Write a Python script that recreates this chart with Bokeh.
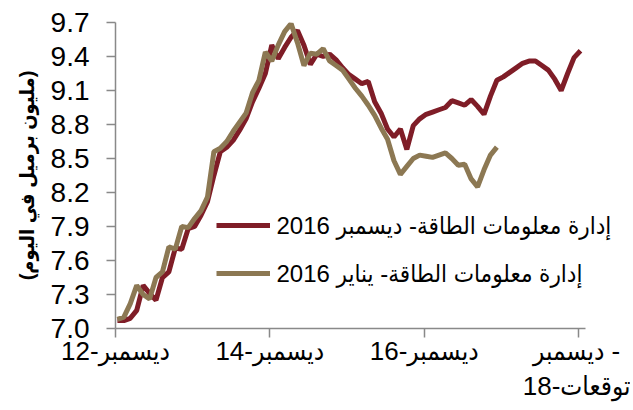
from bokeh.plotting import figure
from bokeh.models import Legend, LegendItem, Range1d, FixedTicker, PrintfTickFormatter, Label
from bokeh.embed import file_html
from bokeh.resources import INLINE
import numpy as np

# EIA Dec-2016 STEO (monthly, Dec-12 .. Dec-18), million b/d
eia_dec16 = [7.07, 7.07, 7.09, 7.16, 7.38, 7.31, 7.25, 7.45, 7.50, 7.71,
             7.70, 7.88, 7.90, 8.00, 8.12, 8.35, 8.56, 8.60, 8.66, 8.75,
             8.85, 9.00, 9.12, 9.25, 9.50, 9.38, 9.48, 9.57, 9.63, 9.50,
             9.33, 9.42, 9.40, 9.42, 9.37, 9.30, 9.24, 9.20, 9.16, 9.18,
             9.00, 8.90, 8.76, 8.69, 8.76, 8.58, 8.79, 8.85, 8.89, 8.91,
             8.93, 8.95, 9.01, 8.99, 8.97, 9.02, 8.96, 8.89, 9.05, 9.19,
             9.22, 9.26, 9.30, 9.34, 9.36, 9.36, 9.32, 9.28, 9.20, 9.10,
             9.25, 9.39, 9.45]
# EIA Jan-2016 STEO (monthly, Dec-12 .. Nov-17)
eia_jan16 = [7.08, 7.10, 7.22, 7.38, 7.30, 7.26, 7.45, 7.50, 7.72, 7.70,
             7.90, 7.89, 7.97, 8.04, 8.16, 8.56, 8.59, 8.65, 8.74, 8.82,
             8.90, 9.08, 9.19, 9.44, 9.36, 9.50, 9.62, 9.69, 9.52, 9.32,
             9.43, 9.42, 9.47, 9.36, 9.32, 9.28, 9.20, 9.12, 9.05, 8.97,
             8.88, 8.77, 8.67, 8.48, 8.36, 8.43, 8.50, 8.53, 8.52, 8.51,
             8.53, 8.55, 8.50, 8.44, 8.45, 8.32, 8.25, 8.40, 8.53, 8.60]

label_dec16 = "إدارة معلومات الطاقة- ديسمبر 2016"
label_jan16 = "إدارة معلومات الطاقة- يناير 2016"
y_title = "(مليون برميل في اليوم)"
x_ticks = [0, 24, 48, 72]
x_tick_labels = ["ديسمبر-12", "ديسمبر-14", "ديسمبر-16", "\u200f- ديسمبر\nتوقعات-18"]
y_ticks = [7.0, 7.3, 7.6, 7.9, 8.2, 8.5, 8.8, 9.1, 9.4, 9.7]
x_axis_end = 73.1   # axis line drawn up to just after Dec-18

RED = "#7f1d27"
TAN = "#8c7853"
FONT = "Liberation Sans, DejaVu Sans Condensed, DejaVu Sans"
AXIS_C = "#898989"

p = figure(width=630, height=410, output_backend="svg", toolbar_location=None,
           x_range=Range1d(0, 79.3), y_range=Range1d(7.0, 9.7),
           min_border_left=115, min_border_right=5, min_border_top=22,
           min_border_bottom=82)
p.outline_line_color = None
p.xgrid.visible = False
p.ygrid.visible = False

x_red = np.arange(len(eia_dec16)) + 0.3
x_tan = np.arange(len(eia_jan16)) + 0.3
r_red = p.line(x_red, eia_dec16, line_color=RED, line_width=5)
r_tan = p.line(x_tan, eia_jan16, line_color=TAN, line_width=5)

for ax in (p.xaxis[0], p.yaxis[0]):
    ax.axis_line_color = AXIS_C
    ax.axis_line_width = 1.5
    ax.major_tick_line_color = AXIS_C
    ax.major_tick_line_width = 1.5
    ax.major_tick_out = 9
    ax.major_tick_in = 0
    ax.minor_tick_line_color = None
    ax.major_label_text_font = FONT
    ax.major_label_text_color = "black"

p.yaxis.major_label_text_font_size = "28px"
p.xaxis.major_label_text_font_size = "26px"

p.yaxis.ticker = FixedTicker(ticks=y_ticks)
p.yaxis.formatter = PrintfTickFormatter(format="%.1f")
p.yaxis.major_label_standoff = 17
p.yaxis.axis_label = y_title
p.yaxis.axis_label_text_font = FONT
p.yaxis.axis_label_text_font_style = "bold"
p.yaxis.axis_label_text_font_size = "20px"
p.yaxis.axis_label_text_color = "black"
p.yaxis.axis_label_standoff = 10

p.xaxis.ticker = FixedTicker(ticks=x_ticks)
p.xaxis.bounds = (0, x_axis_end)
p.xaxis.major_label_overrides = {t: l for t, l in zip(x_ticks, x_tick_labels)}
p.xaxis.major_label_standoff = -2
p.xaxis.major_label_text_line_height = 1.17

# legend glyphs
legend = Legend(items=[LegendItem(label=" ", renderers=[r_red]),
                       LegendItem(label=" ", renderers=[r_tan])],
                location=(101, 40), orientation="vertical",
                padding=0, margin=0, spacing=18,
                glyph_width=54, glyph_height=30, label_height=30,
                label_standoff=0, label_width=1,
                label_text_font_size="2px",
                border_line_alpha=0, background_fill_alpha=0)
p.add_layout(legend)

# legend texts
for txt, yy in ((label_dec16, 103), (label_jan16, 55)):
    p.add_layout(Label(x=161, y=yy, x_units="screen", y_units="screen",
                       text=txt, text_font=FONT, text_font_size="24px",
                       text_color="black", text_align="left",
                       text_baseline="middle"))

open("out.html", "w").write(file_html(p, INLINE))
